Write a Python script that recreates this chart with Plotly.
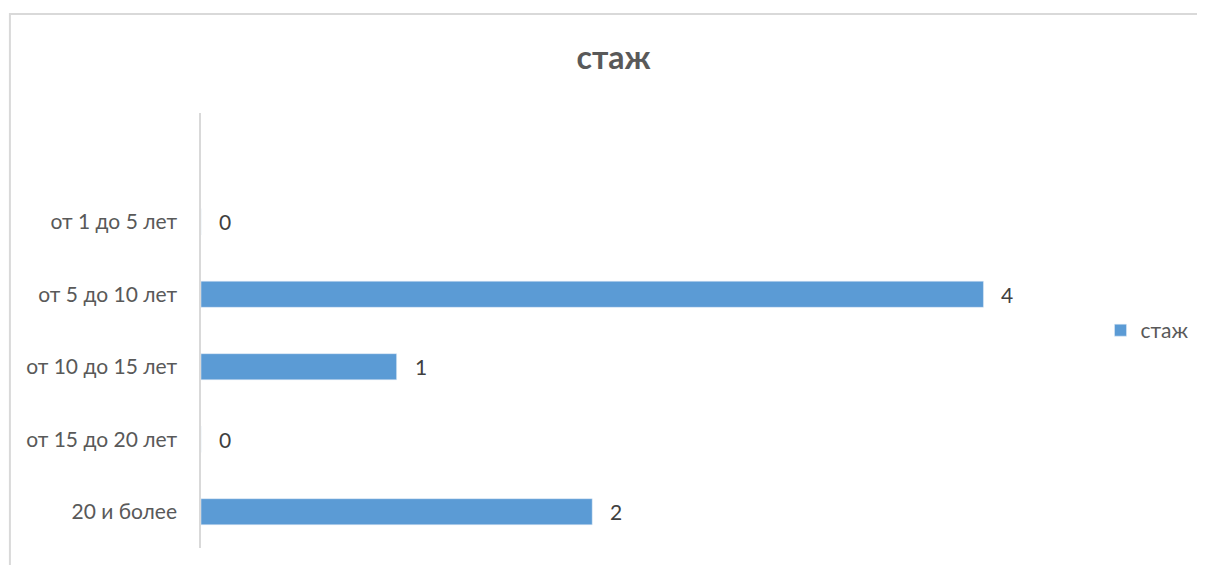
import plotly.graph_objects as go

# categories listed top to bottom as in the chart
categories = ["от 1 до 5 лет", "от 5 до 10 лет", "от 10 до 15 лет", "от 15 до 20 лет", "20 и более"]
values = [0, 4, 1, 0, 2]
series_name = "стаж"

text_color = "#595959"
bar_color = "#5B9BD5"
font_family = "Lato, 'Open Sans', sans-serif"

fig = go.Figure()

fig.add_trace(
    go.Bar(
        y=categories,
        x=values,
        orientation="h",
        name=series_name,
        marker=dict(color=bar_color),
        width=0.36,
        showlegend=True,
    )
)

# value labels to the right of each bar
for cat, val in zip(categories, values):
    fig.add_annotation(
        x=val, y=cat, text=str(val),
        xanchor="left", yanchor="middle", xshift=16,
        showarrow=False,
        font=dict(size=21, color="#404040", family=font_family),
    )

# light frame around the chart area
fig.add_shape(
    type="rect", xref="paper", yref="paper",
    x0=-0.2256, x1=1.3, y0=-0.2, y1=1.2276,
    line=dict(color="#D9D9D9", width=2),
)

fig.update_layout(
    width=1197,
    height=557,
    paper_bgcolor="white",
    plot_bgcolor="white",
    margin=dict(l=193, r=144, t=105, b=17),
    title=dict(
        text="<b>стаж</b>",
        x=0.506, xanchor="center",
        y=0.91, yanchor="middle",
        font=dict(size=32, color=text_color, family=font_family),
    ),
    font=dict(family=font_family, color=text_color),
    legend=dict(
        x=1.062, y=0.5, xanchor="left", yanchor="middle",
        font=dict(size=21, color=text_color, family=font_family),
        itemwidth=30,
    ),
)

fig.update_xaxes(
    range=[0, 4.33],
    showgrid=False,
    showticklabels=False,
    zeroline=False,
    showline=False,
)

fig.update_yaxes(
    categoryorder="array",
    categoryarray=list(reversed(categories)),
    range=[-0.5, 5.5],
    showgrid=False,
    showline=True,
    linecolor="#D9D9D9",
    linewidth=1.5,
    ticks="",
    ticklabelstandoff=18,
    tickfont=dict(size=21, color=text_color, family=font_family),
)

fig.write_html("out.html")
